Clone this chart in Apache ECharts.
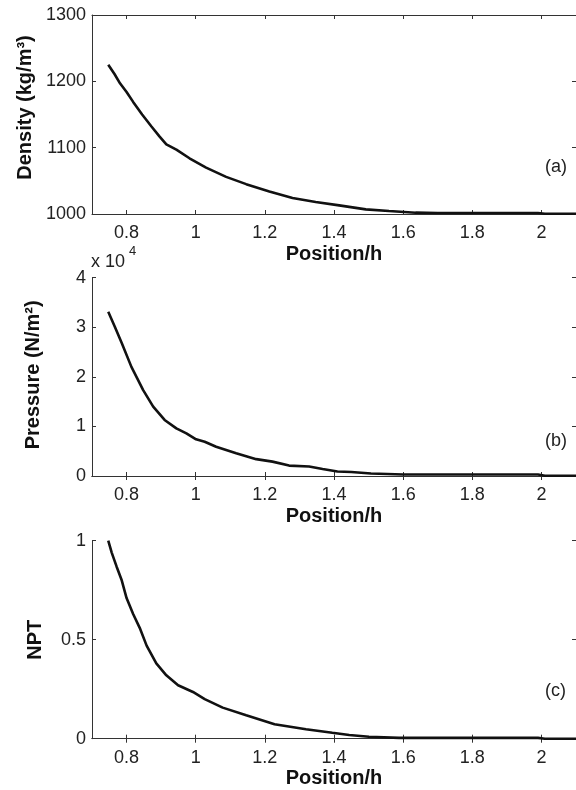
<!DOCTYPE html>
<html>
<head>
<meta charset="utf-8">
<title>Density / Pressure / NPT</title>
<script src="https://cdn.jsdelivr.net/npm/echarts@6/dist/echarts.min.js"></script>
<style>
  html, body { margin: 0; padding: 0; background: #fff; }
  #main { width: 576px; height: 790px; }
</style>
</head>
<body>
<div id="main"></div>
<script>
// position ticks (x axis, shared by the three panels)
var positionTicks = [0.8, 1.0, 1.2, 1.4, 1.6, 1.8, 2.0];

// (a) density, kg/m3
var densityX = [0.747, 0.765, 0.781, 0.800, 0.819, 0.845, 0.872, 0.895, 0.915, 0.944, 0.982, 1.03, 1.088, 1.146, 1.213, 1.28, 1.347, 1.415, 1.492, 1.559, 1.636, 1.70, 1.80, 1.90, 1.99, 2.01, 2.1];
var densityY = [1225, 1211, 1197, 1184, 1169, 1150, 1132, 1117, 1105, 1097, 1084, 1070, 1056, 1045, 1034, 1024, 1018, 1013, 1007, 1004.5, 1002, 1001.5, 1001.5, 1001.5, 1001.5, 1000.3, 1000.3];

// (b) pressure, N/m2
var pressureX = [0.747, 0.766, 0.786, 0.814, 0.848, 0.877, 0.910, 0.944, 0.973, 1.001, 1.026, 1.059, 1.117, 1.175, 1.222, 1.27, 1.328, 1.367, 1.41, 1.45, 1.507, 1.6, 1.8, 1.99, 2.01, 2.1];
var pressureY = [33100, 30100, 26800, 22000, 17300, 14000, 11300, 9600, 8600, 7400, 6900, 5900, 4600, 3400, 2900, 2100, 1900, 1400, 900, 800, 500, 300, 300, 300, 50, 50];

// (c) NPT
var nptX = [0.747, 0.757, 0.771, 0.786, 0.80, 0.819, 0.838, 0.858, 0.886, 0.915, 0.949, 0.992, 1.026, 1.078, 1.146, 1.228, 1.319, 1.395, 1.444, 1.501, 1.588, 1.8, 1.99, 2.01, 2.1];
var nptY = [1.0, 0.94, 0.87, 0.80, 0.71, 0.63, 0.56, 0.47, 0.38, 0.32, 0.27, 0.236, 0.20, 0.157, 0.118, 0.073, 0.048, 0.03, 0.019, 0.01, 0.004, 0.004, 0.004, 0.0, 0.0];

var FONT = 'Liberation Sans';
var TXT = '#222';

//把x,y两个数组拼成点
function pairs(xs, ys){
  var out = [];
  for(var i=0;i<xs.length;i++){
    out.push([xs[i], ys[i]]);
  }
  return out;
}

function fmtPos(v){
  return String(+(+v).toFixed(1));
}

//下方带标签的x轴 + 上方只有刻度的x轴
function xAxes(gridIndex){
  var bottom = {
    type:'value', gridIndex:gridIndex, position:'bottom',
    min:0.7, max:2.1,
    name:'Position/h', nameLocation:'middle', nameGap:30,
    nameTextStyle:{fontFamily:FONT, fontWeight:'bold', fontSize:20, color:'#111'},
    axisLine:{show:true, lineStyle:{color:'#333', width:1}},
    axisTick:{show:true, inside:true, length:4, customValues:positionTicks, lineStyle:{color:'#333'}},
    axisLabel:{show:true, customValues:positionTicks, margin:10, fontFamily:FONT, fontSize:18, color:TXT, formatter:fmtPos},
    splitLine:{show:false}
  };
  var top = {
    type:'value', gridIndex:gridIndex, position:'top',
    min:0.7, max:2.1,
    axisLine:{show:true, lineStyle:{color:'#333', width:1}},
    axisTick:{show:true, inside:true, length:4, customValues:positionTicks, lineStyle:{color:'#333'}},
    axisLabel:{show:false},
    splitLine:{show:false}
  };
  return [bottom, top];
}

//左边y轴 + 右边只有刻度的y轴
function yAxes(gridIndex, min, max, interval, name, nameGap, namePadding, formatter){
  var left = {
    type:'value', gridIndex:gridIndex, position:'left',
    min:min, max:max, interval:interval,
    name:name, nameLocation:'middle', nameGap:nameGap,
    nameTextStyle:{fontFamily:FONT, fontWeight:'bold', fontSize:20, color:'#111', padding:namePadding},
    axisLine:{show:true, lineStyle:{color:'#333', width:1}},
    axisTick:{show:true, inside:true, length:4, lineStyle:{color:'#333'}},
    axisLabel:{show:true, margin:6, fontFamily:FONT, fontSize:18, color:TXT, formatter:formatter},
    splitLine:{show:false}
  };
  var right = {
    type:'value', gridIndex:gridIndex, position:'right',
    min:min, max:max, interval:interval,
    axisLine:{show:true, lineStyle:{color:'#333', width:1}},
    axisTick:{show:true, inside:true, length:4, lineStyle:{color:'#333'}},
    axisLabel:{show:false},
    splitLine:{show:false}
  };
  return [left, right];
}

function curve(index, xs, ys){
  return {
    type:'line', xAxisIndex:index*2, yAxisIndex:index*2,
    data:pairs(xs, ys),
    showSymbol:false, symbol:'none', smooth:false, clip:true,
    lineStyle:{color:'#111', width:2.6},
    animation:false
  };
}

function panelTag(text, y){
  return {
    type:'text', left:545, top:y - 10,
    style:{text:text, fontFamily:FONT, fontSize:18, fill:TXT}
  };
}

var chart = echarts.init(document.getElementById('main'));

var option = {
  backgroundColor:'#fff',
  animation:false,
  grid:[
    {left:92, top:15, width:486, height:199},
    {left:92, top:277.6, width:486, height:198.4},
    {left:92, top:540.7, width:486, height:198}
  ],
  xAxis:[].concat(xAxes(0), xAxes(1), xAxes(2)),
  yAxis:[].concat(
    yAxes(0, 1000, 1300, 100, 'Density (kg/m\u00b3)', 56, [0,0,0,14], function(v){ return String(v); }),
    yAxes(1, 0, 40000, 10000, 'Pressure (N/m\u00b2)', 49, [0,0,0,4], function(v){ return String(v/10000); }),
    yAxes(2, 0, 1, 0.5, 'NPT', 47, 0, function(v){ return String(v); })
  ),
  series:[
    curve(0, densityX, densityY),
    curve(1, pressureX, pressureY),
    curve(2, nptX, nptY)
  ],
  graphic:[
    panelTag('(a)', 168),
    panelTag('(b)', 442),
    panelTag('(c)', 692),
    {type:'text', left:91, top:253, style:{text:'x 10', fontFamily:FONT, fontSize:18, fill:TXT}},
    {type:'text', left:129, top:245, style:{text:'4', fontFamily:FONT, fontSize:13, fill:TXT}}
  ]
};

chart.setOption(option);
</script>
</body>
</html>
